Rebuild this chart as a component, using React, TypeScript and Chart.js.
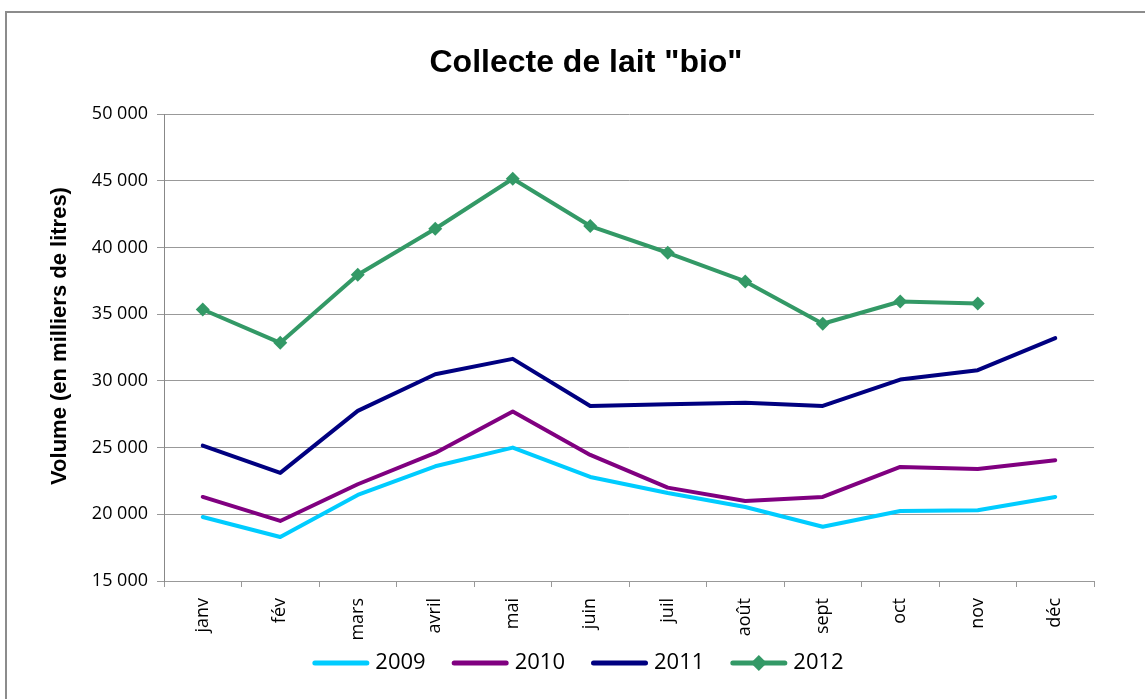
import React, { useEffect, useRef } from "react";
import { Chart, registerables } from "chart.js";

Chart.register(...registerables);

const months = ["janv", "fév", "mars", "avril", "mai", "juin", "juil", "août", "sept", "oct", "nov", "déc"];
const seriesNames = ["2009", "2010", "2011", "2012"];
const values2009 = [19800, 18300, 21450, 23600, 25000, 22800, 21600, 20550, 19070, 20250, 20300, 21300];
const values2010 = [21300, 19500, 22250, 24600, 27700, 24450, 22000, 21000, 21300, 23550, 23400, 24050];
const values2011 = [25150, 23100, 27750, 30500, 31650, 28120, 28250, 28350, 28120, 30100, 30800, 33200];
const values2012 = [35350, 32850, 37950, 41400, 45150, 41600, 39600, 37450, 34280, 35950, 35800, null];
const colors = ["#00CCFF", "#800080", "#000080", "#339966"];
const titleText = 'Collecte de lait "bio"';
const yTitleText = "Volume (en milliers de litres)";
const yMin = 15000;
const yMax = 50000;
const yStep = 5000;

function fmt(v: number): string {
  const s = String(Math.round(v));
  return s.replace(/\B(?=(\d{3})+(?!\d))/g, " ");
}

const framePlugin = {
  id: "frame",
  beforeDraw(chart: any) {
    const ctx = chart.ctx;
    ctx.save();
    ctx.fillStyle = "#ffffff";
    ctx.fillRect(0, 0, chart.width, chart.height);
    ctx.strokeStyle = "#8c8c8c";
    ctx.lineWidth = 2;
    ctx.beginPath();
    ctx.moveTo(6, chart.height + 5);
    ctx.lineTo(6, 12);
    ctx.lineTo(chart.width + 5, 12);
    ctx.stroke();
    ctx.restore();
  },
  afterDraw(chart: any) {
    const ctx = chart.ctx;
    ctx.save();
    // chart title
    ctx.font = "bold 32px 'Liberation Sans', Arial, sans-serif";
    ctx.fillStyle = "#000";
    ctx.textAlign = "center";
    ctx.textBaseline = "middle";
    ctx.fillText(titleText, 586, 63);
    // y axis title
    ctx.save();
    ctx.translate(60, 336);
    ctx.rotate(-Math.PI / 2);
    ctx.font = "bold 22px 'Liberation Sans', Arial, sans-serif";
    ctx.fillText(yTitleText, 0, 0);
    ctx.restore();
    // legend, built from the datasets
    const ds = chart.data.datasets;
    ctx.font = "22px 'Open Sans', sans-serif";
    const lineW = 57;
    const gapText = 6;
    const gapItem = 26;
    const widths = ds.map((d: any) => lineW + gapText + ctx.measureText(d.label).width);
    const total = widths.reduce((a: number, b: number) => a + b, 0) + gapItem * (ds.length - 1);
    let x = 578 - total / 2;
    const y = 663;
    ds.forEach((d: any, i: number) => {
      ctx.strokeStyle = d.borderColor;
      ctx.lineWidth = 5;
      ctx.lineCap = "round";
      ctx.beginPath();
      ctx.moveTo(x + 2.5, y);
      ctx.lineTo(x + lineW - 2.5, y);
      ctx.stroke();
      if (d.pointRadius > 0) {
        const cx = x + lineW / 2;
        const r = 8;
        ctx.fillStyle = d.borderColor;
        ctx.beginPath();
        ctx.moveTo(cx, y - r);
        ctx.lineTo(cx + r, y);
        ctx.lineTo(cx, y + r);
        ctx.lineTo(cx - r, y);
        ctx.closePath();
        ctx.fill();
      }
      ctx.fillStyle = "#000";
      ctx.textAlign = "left";
      ctx.textBaseline = "middle";
      ctx.fillText(d.label, x + lineW + gapText, y);
      x += widths[i] + gapItem;
    });
    ctx.restore();
  },
};

export default function App() {
  const ref = useRef<HTMLCanvasElement | null>(null);
  useEffect(() => {
    if (!ref.current) return;
    const allValues = [values2009, values2010, values2011, values2012];
    const chart = new Chart(ref.current, {
      type: "line",
      data: {
        labels: months,
        datasets: allValues.map((vals, i) => ({
          label: seriesNames[i],
          data: vals,
          borderColor: colors[i],
          backgroundColor: colors[i],
          borderWidth: 4,
          borderCapStyle: "round",
          borderJoinStyle: "round",
          tension: 0,
          fill: false,
          spanGaps: false,
          pointStyle: "rectRot",
          pointRadius: i === 3 ? 7 : 0,
          pointHoverRadius: i === 3 ? 7 : 0,
          pointBorderWidth: 0,
          pointBackgroundColor: colors[i],
        })),
      },
      options: {
        animation: false,
        responsive: false,
        devicePixelRatio: 1,
        layout: { padding: { left: 0, right: 51, top: 114, bottom: 0 } },
        plugins: {
          tooltip: { enabled: false },
          title: { display: false },
          legend: { display: false },
        },
        scales: {
          x: {
            type: "category",
            offset: true,
            grid: { drawOnChartArea: false, offset: true, tickLength: 6, color: "#999", lineWidth: 1 },
            border: { color: "#999", width: 1 },
            ticks: {
              color: "#000",
              font: { family: "'Open Sans', sans-serif", size: 18 },
              maxRotation: 90,
              minRotation: 90,
              padding: 11,
              autoSkip: false,
            },
            afterFit(scale: any) {
              scale.height = 118;
            },
          },
          y: {
            min: yMin,
            max: yMax,
            ticks: {
              stepSize: yStep,
              color: "#000",
              font: { family: "'Open Sans', sans-serif", size: 18 },
              padding: 9,
              callback: (v: any) => fmt(Number(v)),
            },
            grid: { color: "#999", lineWidth: 1, tickLength: 7 },
            border: { color: "#888", width: 1 },
            afterFit(scale: any) {
              scale.width = 164;
            },
          },
        },
      },
      plugins: [framePlugin],
    } as any);
    return () => chart.destroy();
  }, []);
  return (
    <div style={{ position: "absolute", left: 0, top: 0, width: 1145, height: 699 }}>
      <canvas ref={ref} width={1145} height={699} style={{ display: "block" }} />
    </div>
  );
}
